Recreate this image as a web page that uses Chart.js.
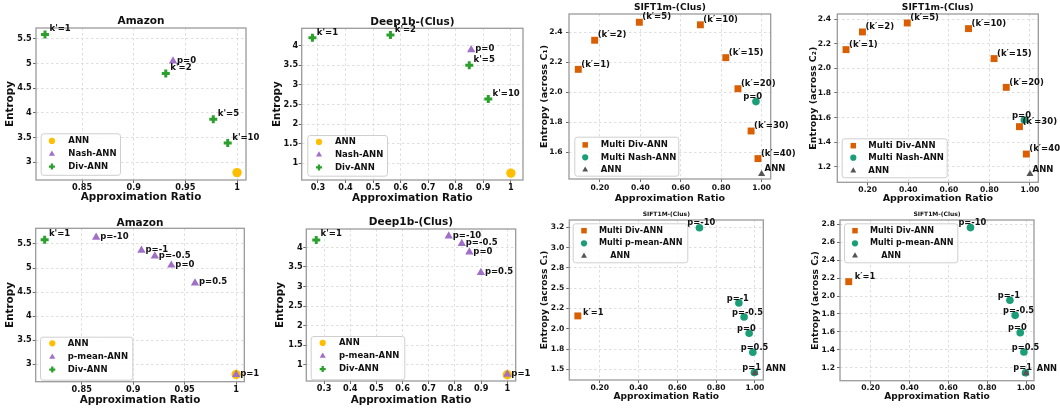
<!DOCTYPE html>
<html>
<head>
<meta charset="utf-8">
<script src="https://cdn.jsdelivr.net/npm/chart.js@4.4.0/dist/chart.umd.min.js"></script>
<style>
  html, body { margin: 0; padding: 0; background: #fff; }
  #fig { position: relative; width: 1060px; height: 410px; overflow: hidden; background: #fff; }
  #fig canvas { position: absolute; }
</style>
</head>
<body>
<div id="fig"></div>
<script>
// ---------------- Amazon ----------------
const amazonAnnX = [1.0];
const amazonAnnY = [2.79];
const amazonDivX = [0.814, 0.931, 0.977, 0.991];
const amazonDivY = [5.59, 4.80, 3.87, 3.39];
const amazonDivLabels = ["k'=1", "k'=2", "k'=5", "k'=10"];
const amazonNashX = [0.938];
const amazonNashY = [5.05];
const amazonNashLabels = ['p=0'];
const amazonPmeanX = [0.864, 0.908, 0.921, 0.937, 0.960, 1.0];
const amazonPmeanY = [5.64, 5.37, 5.25, 5.06, 4.69, 2.79];
const amazonPmeanLabels = ['p=-10', 'p=-1', 'p=-0.5', 'p=0', 'p=0.5', 'p=1'];
const amazonXTicks = [0.85, 0.9, 0.95, 1];
const amazonXTickLabels = ['0.85', '0.9', '0.95', '1'];
const amazonYTicks = [3, 3.5, 4, 4.5, 5, 5.5];
const amazonYTickLabels = ['3', '3.5', '4', '4.5', '5', '5.5'];

// ---------------- Deep1b-(Clus) ----------------
const deepAnnX = [1.0];
const deepAnnY = [0.75];
const deepDivX = [0.28, 0.563, 0.849, 0.918];
const deepDivY = [4.20, 4.27, 3.50, 2.64];
const deepDivLabels = ["k'=1", "k'=2", "k'=5", "k'=10"];
const deepNashX = [0.856];
const deepNashY = [3.89];
const deepNashLabels = ['p=0'];
const deepBestDivX = [0.27];
const deepBestDivY = [4.19];
const deepBestDivLabels = ["k'=1"];
const deepPmeanX = [0.776, 0.826, 0.855, 0.899, 1.0];
const deepPmeanY = [4.29, 4.10, 3.88, 3.36, 0.76];
const deepPmeanLabels = ['p=-10', 'p=-0.5', 'p=0', 'p=0.5', 'p=1'];
const deepXTicks = [0.3, 0.4, 0.5, 0.6, 0.7, 0.8, 0.9, 1.0];
const deepXTickLabels = ['0.3', '0.4', '0.5', '0.6', '0.7', '0.8', '0.9', '1'];
const deepYTicks = [1, 1.5, 2, 2.5, 3, 3.5, 4];
const deepYTickLabels = ['1', '1.5', '2', '2.5', '3', '3.5', '4'];

// ---------------- SIFT1m-(Clus) ----------------
const siftDivX = [0.093, 0.174, 0.395, 0.697, 0.823, 0.883, 0.948, 0.982];
const siftDivC1 = [2.153, 2.347, 2.467, 2.450, 2.231, 2.024, 1.742, 1.558];
const siftDivC2 = [2.153, 2.297, 2.370, 2.324, 2.080, 1.846, 1.526, 1.303];
const siftDivLabels = ['(k\u2032=1)', '(k\u2032=2)', '(k\u2032=5)', '(k\u2032=10)', '(k\u2032=15)', '(k\u2032=20)', '(k\u2032=30)', '(k\u2032=40)'];
const siftNashX = [0.972];
const siftNashC1 = [1.938];
const siftNashC2 = [1.58];
const siftNashLabels = ['p=0'];
const siftAnnX = [1.0];
const siftAnnC1 = [1.455];
const siftAnnC2 = [1.14];
const siftAnnLabels = ['ANN'];
const siftBestDivX = [0.087];
const siftBestDivC1 = [2.158];
const siftBestDivC2 = [2.16];
const siftBestDivLabels = ['k\u2032=1'];
const siftPmeanX = [0.714, 0.917, 0.944, 0.970, 0.989, 0.997];
const siftPmeanC1 = [3.245, 2.318, 2.145, 1.945, 1.71, 1.46];
const siftPmeanC2 = [2.763, 1.952, 1.784, 1.591, 1.375, 1.144];
const siftPmeanLabels = ['p=-10', 'p=-1', 'p=-0.5', 'p=0', 'p=0.5', 'p=1'];
const siftXTicks = [0.2, 0.4, 0.6, 0.8, 1.0];
const siftXTickLabels = ['0.20', '0.40', '0.60', '0.80', '1.00'];
const siftC1YTicks = [1.6, 1.8, 2.0, 2.2, 2.4];
const siftC1YTickLabels = ['1.6', '1.8', '2.0', '2.2', '2.4'];
const siftC2YTicks = [1.2, 1.4, 1.6, 1.8, 2.0, 2.2, 2.4];
const siftC2YTickLabels = ['1.2', '1.4', '1.6', '1.8', '2.0', '2.2', '2.4'];
const siftC1WideYTicks = [1.5, 1.75, 2.0, 2.25, 2.5, 2.75, 3.0, 3.25];
const siftC1WideYTickLabels = ['1.5', '1.8', '2.0', '2.2', '2.5', '2.8', '3.0', '3.2'];
const siftC2WideYTicks = [1.2, 1.4, 1.6, 1.8, 2.0, 2.2, 2.4, 2.6, 2.8];
const siftC2WideYTickLabels = ['1.2', '1.4', '1.6', '1.8', '2.0', '2.2', '2.4', '2.6', '2.8'];

// ---------------- drawing ----------------
const FONT = "'DejaVu Sans', sans-serif";
const TEXT = '#111111';

const MARK = {
  ann:   { style: 'circle',   fill: '#FFBF00', r: 4.7, lr: 3.1 },
  nash:  { style: 'triangle', fill: '#a070c8', r: 4.8, lr: 3.5 },
  div:   { style: 'cross',    fill: '#2ca02c', r: 4.0, lr: 3.0, bw: 3.0, lbw: 2.3 },
  mdiv:  { style: 'rect',     fill: '#D95F02', r: 4.9, lr: 3.9 },
  mnash: { style: 'circle',   fill: '#1B9E77', r: 3.8, lr: 3.1 },
  gann:  { style: 'triangle', fill: '#555555', r: 4.1, lr: 3.4 }
};

const pts = (xs, ys) => xs.map((x, i) => ({ x: x, y: ys[i] }));

function drawMarker(ctx, m, r, bw, x, y) {
  ctx.save();
  ctx.fillStyle = m.fill;
  ctx.strokeStyle = m.fill;
  ctx.beginPath();
  if (m.style === 'circle') {
    ctx.arc(x, y, r, 0, Math.PI * 2);
    ctx.fill();
  } else if (m.style === 'triangle') {
    let a = 0;
    ctx.moveTo(x + Math.sin(a) * r, y - Math.cos(a) * r);
    a += 2 * Math.PI / 3;
    ctx.lineTo(x + Math.sin(a) * r, y - Math.cos(a) * r);
    a += 2 * Math.PI / 3;
    ctx.lineTo(x + Math.sin(a) * r, y - Math.cos(a) * r);
    ctx.closePath();
    ctx.fill();
  } else if (m.style === 'rect') {
    const s = r * Math.SQRT1_2;
    ctx.rect(x - s, y - s, 2 * s, 2 * s);
    ctx.fill();
  } else if (m.style === 'cross') {
    ctx.lineWidth = bw;
    ctx.moveTo(x, y - r); ctx.lineTo(x, y + r);
    ctx.moveTo(x - r, y); ctx.lineTo(x + r, y);
    ctx.stroke();
  }
  ctx.restore();
}

const fig = document.getElementById('fig');

function makePanel(p) {
  const W = 265, H = 205;
  const cv = document.createElement('canvas');
  cv.width = W; cv.height = H;
  cv.style.left = p.ox + 'px'; cv.style.top = p.oy + 'px';
  cv.style.width = W + 'px'; cv.style.height = H + 'px';
  fig.appendChild(cv);

  const L = p.plot[0] - p.ox, T = p.plot[1] - p.oy, R = p.plot[2] - p.ox, B = p.plot[3] - p.oy;
  const axFont = { family: FONT, size: p.axisSize, weight: 'bold', lineHeight: 1.2 };
  const half = p.axisSize * 0.6;
  const tickFont = { family: FONT, size: p.tickSize, weight: 'bold' };
  const grid = {
    color: '#d6d6d6', lineWidth: 0.8, borderDash: [2.5, 2.5],
    drawTicks: true, tickLength: 3, tickColor: '#444', tickWidth: 0.8, tickBorderDash: []
  };

  const datasets = p.series.map(s => ({
    data: pts(s.x, s.y),
    order: s.order || 0,
    pointStyle: MARK[s.m].style,
    pointRadius: MARK[s.m].r,
    pointHoverRadius: MARK[s.m].r,
    pointBackgroundColor: MARK[s.m].fill,
    pointBorderColor: MARK[s.m].fill,
    pointBorderWidth: MARK[s.m].style === 'cross' ? MARK[s.m].bw : 0,
    showLine: false,
    clip: false
  }));

  const deco = {
    id: 'deco',
    beforeDatasetsDraw(chart) {
      const ca = chart.chartArea, ctx = chart.ctx;
      ctx.save();
      ctx.strokeStyle = '#9a9a9a';
      ctx.lineWidth = 1.3;
      ctx.strokeRect(ca.left, ca.top, ca.right - ca.left, ca.bottom - ca.top);
      ctx.restore();
    },
    afterDatasetsDraw(chart) {
      const ctx = chart.ctx;
      ctx.save();
      ctx.fillStyle = TEXT;
      ctx.font = 'bold ' + p.labelSize + 'px ' + FONT;
      ctx.textAlign = 'left';
      ctx.textBaseline = 'middle';
      p.series.forEach((s, di) => {
        if (!s.labels) return;
        const meta = chart.getDatasetMeta(di);
        s.labels.forEach((t, i) => {
          const el = meta.data[i];
          ctx.fillText(t, el.x + s.dx, el.y + s.dy);
        });
      });
      ctx.restore();
    },
    afterDraw(chart) {
      const ca = chart.chartArea, ctx = chart.ctx;
      // panel title
      ctx.save();
      ctx.fillStyle = TEXT;
      ctx.font = 'bold ' + p.titleSize + 'px ' + FONT;
      ctx.textAlign = 'center';
      ctx.textBaseline = 'middle';
      ctx.fillText(p.title, (ca.left + ca.right) / 2, ca.top + p.titleDy);
      ctx.restore();
      // legend
      const lg = p.legend;
      const bx = ca.left + lg.x, by = ca.top + lg.y;
      ctx.save();
      ctx.beginPath();
      if (ctx.roundRect) ctx.roundRect(bx + 0.5, by + 0.5, lg.w, lg.h, 2.5);
      else ctx.rect(bx + 0.5, by + 0.5, lg.w, lg.h);
      ctx.fillStyle = 'rgba(255,255,255,0.85)';
      ctx.fill();
      ctx.strokeStyle = '#cfcfcf';
      ctx.lineWidth = 1;
      ctx.stroke();
      lg.items.forEach((it, k) => {
        const m = MARK[p.series[it.si].m];
        drawMarker(ctx, m, m.lr, m.lbw || 0, bx + lg.mx, by + lg.rows[k]);
        ctx.fillStyle = TEXT;
        ctx.font = 'bold ' + p.legendSize + 'px ' + FONT;
        ctx.textAlign = 'left';
        ctx.textBaseline = 'middle';
        ctx.fillText(it.label, bx + lg.tx, by + lg.rows[k]);
      });
      ctx.restore();
    }
  };

  new Chart(cv, {
    type: 'scatter',
    data: { datasets: datasets },
    options: {
      responsive: false,
      animation: false,
      devicePixelRatio: 1,
      events: [],
      layout: { padding: { left: 0, top: T, right: W - R, bottom: 0 } },
      plugins: { legend: { display: false }, tooltip: { enabled: false }, title: { display: false } },
      scales: {
        x: {
          type: 'linear', position: 'bottom',
          min: p.xRange[0], max: p.xRange[1],
          afterBuildTicks: sc => { sc.ticks = p.xTicks.map(v => ({ value: v })); },
          afterFit: sc => { sc.height = H - B; },
          ticks: {
            autoSkip: false, maxRotation: 0, minRotation: 0, padding: p.xPad,
            color: TEXT, font: tickFont, callback: (v, i) => p.xTickLabels[i]
          },
          grid: grid,
          border: { display: false, dash: [2.5, 2.5] },
          title: {
            display: true, text: 'Approximation Ratio', color: TEXT, font: axFont,
            padding: { top: 0, bottom: Math.max(0, H - p.xTitleY - half) }
          }
        },
        y: {
          type: 'linear', position: 'left',
          min: p.yRange[0], max: p.yRange[1],
          afterBuildTicks: sc => { sc.ticks = p.yTicks.map(v => ({ value: v })); },
          afterFit: sc => { sc.width = L; },
          ticks: {
            autoSkip: false, padding: p.yPad,
            color: TEXT, font: tickFont, callback: (v, i) => p.yTickLabels[i]
          },
          grid: grid,
          border: { display: false, dash: [2.5, 2.5] },
          title: {
            display: true, text: p.yTitle, color: TEXT, font: axFont,
            padding: { top: Math.max(0, p.yTitleX - half), bottom: 0 }
          }
        }
      }
    },
    plugins: [deco]
  });
}

// ---- top row ----
makePanel({
  ox: 0, oy: 0, plot: [36, 28, 246, 180],
  xRange: [0.8053, 1.0087], yRange: [2.64, 5.72],
  xTicks: amazonXTicks, xTickLabels: amazonXTickLabels,
  yTicks: amazonYTicks, yTickLabels: amazonYTickLabels,
  title: 'Amazon', titleSize: 10.5, titleDy: -7,
  yTitle: 'Entropy', axisSize: 10.4, xTitleY: 197.7, yTitleX: 10,
  tickSize: 8.2, xPad: 0, yPad: 1.2, labelSize: 8.5, legendSize: 8.5,
  series: [
    { m: 'ann', x: amazonAnnX, y: amazonAnnY, order: 2 },
    { m: 'nash', x: amazonNashX, y: amazonNashY, labels: amazonNashLabels, dx: 4, dy: 0, order: 1 },
    { m: 'div', x: amazonDivX, y: amazonDivY, labels: amazonDivLabels, dx: 4.5, dy: -5.5, order: 0 }
  ],
  legend: { x: 4.7, y: 105.3, w: 79.3, h: 41.5, mx: 11.2, tx: 27.6, rows: [7.6, 20.8, 33.3],
    items: [{ si: 0, label: 'ANN' }, { si: 1, label: 'Nash-ANN' }, { si: 2, label: 'Div-ANN' }] }
});

makePanel({
  ox: 265, oy: 0, plot: [301.7, 28.3, 526.7, 180],
  xRange: [0.241, 1.044], yRange: [0.574, 4.44],
  xTicks: deepXTicks, xTickLabels: deepXTickLabels,
  yTicks: deepYTicks, yTickLabels: deepYTickLabels,
  title: 'Deep1b-(Clus)', titleSize: 10.5, titleDy: -6.3,
  yTitle: 'Entropy', axisSize: 10.4, xTitleY: 199, yTitleX: 12.3,
  tickSize: 8.2, xPad: 0, yPad: 0.6, labelSize: 8.5, legendSize: 8.5,
  series: [
    { m: 'ann', x: deepAnnX, y: deepAnnY, order: 2 },
    { m: 'nash', x: deepNashX, y: deepNashY, labels: deepNashLabels, dx: 4, dy: -1, order: 1 },
    { m: 'div', x: deepDivX, y: deepDivY, labels: deepDivLabels, dx: 4.3, dy: -5.3, order: 0 }
  ],
  legend: { x: 5.6, y: 106.7, w: 79.7, h: 40.7, mx: 11.7, tx: 27.7, rows: [6.9, 19.8, 32.4],
    items: [{ si: 0, label: 'ANN' }, { si: 1, label: 'Nash-ANN' }, { si: 2, label: 'Div-ANN' }] }
});

makePanel({
  ox: 530, oy: 0, plot: [569, 14, 770.7, 179],
  xRange: [0.047, 1.045], yRange: [1.422, 2.522],
  xTicks: siftXTicks, xTickLabels: siftXTickLabels,
  yTicks: siftC1YTicks, yTickLabels: siftC1YTickLabels,
  title: 'SIFT1m-(Clus)', titleSize: 9.1, titleDy: -6.7,
  yTitle: 'Entropy (across C\u2081)', axisSize: 9.5, xTitleY: 199, yTitleX: 15,
  tickSize: 7.6, xPad: 1.5, yPad: 3.4, labelSize: 8.5, legendSize: 8.5,
  series: [
    { m: 'mdiv', x: siftDivX, y: siftDivC1, labels: siftDivLabels, dx: 3, dy: -5, order: 2 },
    { m: 'mnash', x: siftNashX, y: siftNashC1, labels: siftNashLabels, dx: -12.8, dy: -5, order: 1 },
    { m: 'gann', x: siftAnnX, y: siftAnnC1, labels: siftAnnLabels, dx: 3, dy: -5, order: 0 }
  ],
  legend: { x: 5.3, y: 122.7, w: 104, h: 39, mx: 10.9, tx: 26.4, rows: [8.2, 20.6, 33.2],
    items: [{ si: 0, label: 'Multi Div-ANN' }, { si: 1, label: 'Multi Nash-ANN' }, { si: 2, label: 'ANN' }] }
});

makePanel({
  ox: 795, oy: 0, plot: [837.3, 14, 1038.3, 182.3],
  xRange: [0.05, 1.041], yRange: [1.073, 2.443],
  xTicks: siftXTicks, xTickLabels: siftXTickLabels,
  yTicks: siftC2YTicks, yTickLabels: siftC2YTickLabels,
  title: 'SIFT1m-(Clus)', titleSize: 9.1, titleDy: -6.3,
  yTitle: 'Entropy (across C\u2082)', axisSize: 9.5, xTitleY: 199, yTitleX: 18.3,
  tickSize: 7.6, xPad: 0.2, yPad: 3.2, labelSize: 8.5, legendSize: 8.5,
  series: [
    { m: 'mdiv', x: siftDivX, y: siftDivC2, labels: siftDivLabels, dx: 3, dy: -4.8, order: 2 },
    { m: 'mnash', x: siftNashX, y: siftNashC2, labels: siftNashLabels, dx: -12.3, dy: -4.3, order: 1 },
    { m: 'gann', x: siftAnnX, y: siftAnnC2, labels: siftAnnLabels, dx: 2.6, dy: -4.7, order: 0 }
  ],
  legend: { x: 4.4, y: 124.3, w: 105, h: 39, mx: 11.6, tx: 26.6, rows: [7.4, 19.4, 32.4],
    items: [{ si: 0, label: 'Multi Div-ANN' }, { si: 1, label: 'Multi Nash-ANN' }, { si: 2, label: 'ANN' }] }
});

// ---- bottom row ----
makePanel({
  ox: 0, oy: 205, plot: [35.7, 228.3, 244.3, 381.7],
  xRange: [0.8053, 1.0079], yRange: [2.64, 5.826],
  xTicks: amazonXTicks, xTickLabels: amazonXTickLabels,
  yTicks: amazonYTicks, yTickLabels: amazonYTickLabels,
  title: 'Amazon', titleSize: 10.5, titleDy: -5.3,
  yTitle: 'Entropy', axisSize: 10.4, xTitleY: 195, yTitleX: 10,
  tickSize: 8.2, xPad: 0, yPad: 1, labelSize: 8.5, legendSize: 8.5,
  series: [
    { m: 'ann', x: amazonAnnX, y: amazonAnnY, order: 3 },
    { m: 'nash', x: amazonPmeanX, y: amazonPmeanY, labels: amazonPmeanLabels, dx: 4, dy: -0.7, order: 2 },
    { m: 'div', x: amazonDivX.slice(0, 1), y: amazonDivY.slice(0, 1), labels: amazonDivLabels.slice(0, 1), dx: 4.3, dy: -5.4, order: 1 }
  ],
  legend: { x: 4.3, y: 108.4, w: 92.3, h: 43, mx: 12.3, tx: 27.7, rows: [6.6, 20.3, 32.9],
    items: [{ si: 0, label: 'ANN' }, { si: 1, label: 'p-mean-ANN' }, { si: 2, label: 'Div-ANN' }] }
});

makePanel({
  ox: 265, oy: 205, plot: [306.3, 229, 515.7, 381],
  xRange: [0.232, 1.032], yRange: [0.59, 4.47],
  xTicks: deepXTicks, xTickLabels: deepXTickLabels,
  yTicks: deepYTicks, yTickLabels: deepYTickLabels,
  title: 'Deep1b-(Clus)', titleSize: 10.5, titleDy: -6.7,
  yTitle: 'Entropy', axisSize: 10.4, xTitleY: 195, yTitleX: 15.7,
  tickSize: 8.2, xPad: 0, yPad: 0.6, labelSize: 8.5, legendSize: 8.5,
  series: [
    { m: 'ann', x: deepAnnX, y: deepAnnY, order: 3 },
    { m: 'nash', x: deepPmeanX, y: deepPmeanY, labels: deepPmeanLabels, dx: 4, dy: -0.7, order: 2 },
    { m: 'div', x: deepBestDivX, y: deepBestDivY, labels: deepBestDivLabels, dx: 4.3, dy: -5.8, order: 1 }
  ],
  legend: { x: 4.4, y: 107, w: 93.6, h: 43.3, mx: 12, tx: 28.3, rows: [6.9, 20.1, 33.1],
    items: [{ si: 0, label: 'ANN' }, { si: 1, label: 'p-mean-ANN' }, { si: 2, label: 'Div-ANN' }] }
});

makePanel({
  ox: 530, oy: 205, plot: [569.3, 220, 763.3, 380],
  xRange: [0.043, 1.043], yRange: [1.368, 3.34],
  xTicks: siftXTicks, xTickLabels: siftXTickLabels,
  yTicks: siftC1WideYTicks, yTickLabels: siftC1WideYTickLabels,
  title: 'SIFT1M-(Clus)', titleSize: 6, titleDy: -6,
  yTitle: 'Entropy (across C\u2081)', axisSize: 9.1, xTitleY: 191.7, yTitleX: 15,
  tickSize: 7.6, xPad: 0.3, yPad: 2, labelSize: 8.3, legendSize: 8.1,
  series: [
    { m: 'mdiv', x: siftBestDivX, y: siftBestDivC1, labels: siftBestDivLabels, dx: 5.2, dy: -3.5, order: 2 },
    { m: 'mnash', x: siftPmeanX, y: siftPmeanC1, labels: siftPmeanLabels, dx: -12.1, dy: -4.5, order: 1 },
    { m: 'gann', x: siftAnnX, y: siftAnnC1, labels: siftAnnLabels, dx: 10.7, dy: -4.4, order: 0 }
  ],
  legend: { x: 3.4, y: 3.3, w: 114.6, h: 39, mx: 11.3, tx: 26.3, rows: [7.4, 20, 32.7],
    items: [{ si: 0, label: 'Multi Div-ANN' }, { si: 1, label: 'Multi p-mean-ANN' }, { si: 2, label: '    ANN' }] }
});

makePanel({
  ox: 795, oy: 205, plot: [840, 220, 1034, 380.7],
  xRange: [0.042, 1.041], yRange: [1.055, 2.848],
  xTicks: siftXTicks, xTickLabels: siftXTickLabels,
  yTicks: siftC2WideYTicks, yTickLabels: siftC2WideYTickLabels,
  title: 'SIFT1M-(Clus)', titleSize: 6, titleDy: -6,
  yTitle: 'Entropy (across C\u2082)', axisSize: 9.1, xTitleY: 191.7, yTitleX: 21,
  tickSize: 7.6, xPad: 0, yPad: 2, labelSize: 8.3, legendSize: 8.1,
  series: [
    { m: 'mdiv', x: siftBestDivX, y: siftBestDivC2, labels: siftBestDivLabels, dx: 6, dy: -4.5, order: 2 },
    { m: 'mnash', x: siftPmeanX, y: siftPmeanC2, labels: siftPmeanLabels, dx: -12.1, dy: -4.5, order: 1 },
    { m: 'gann', x: siftAnnX, y: siftAnnC2, labels: siftAnnLabels, dx: 10.7, dy: -4.4, order: 0 }
  ],
  legend: { x: 4, y: 3.3, w: 113.3, h: 39, mx: 11, tx: 26, rows: [7.4, 20, 32.4],
    items: [{ si: 0, label: 'Multi Div-ANN' }, { si: 1, label: 'Multi p-mean-ANN' }, { si: 2, label: '    ANN' }] }
});
</script>
</body>
</html>
